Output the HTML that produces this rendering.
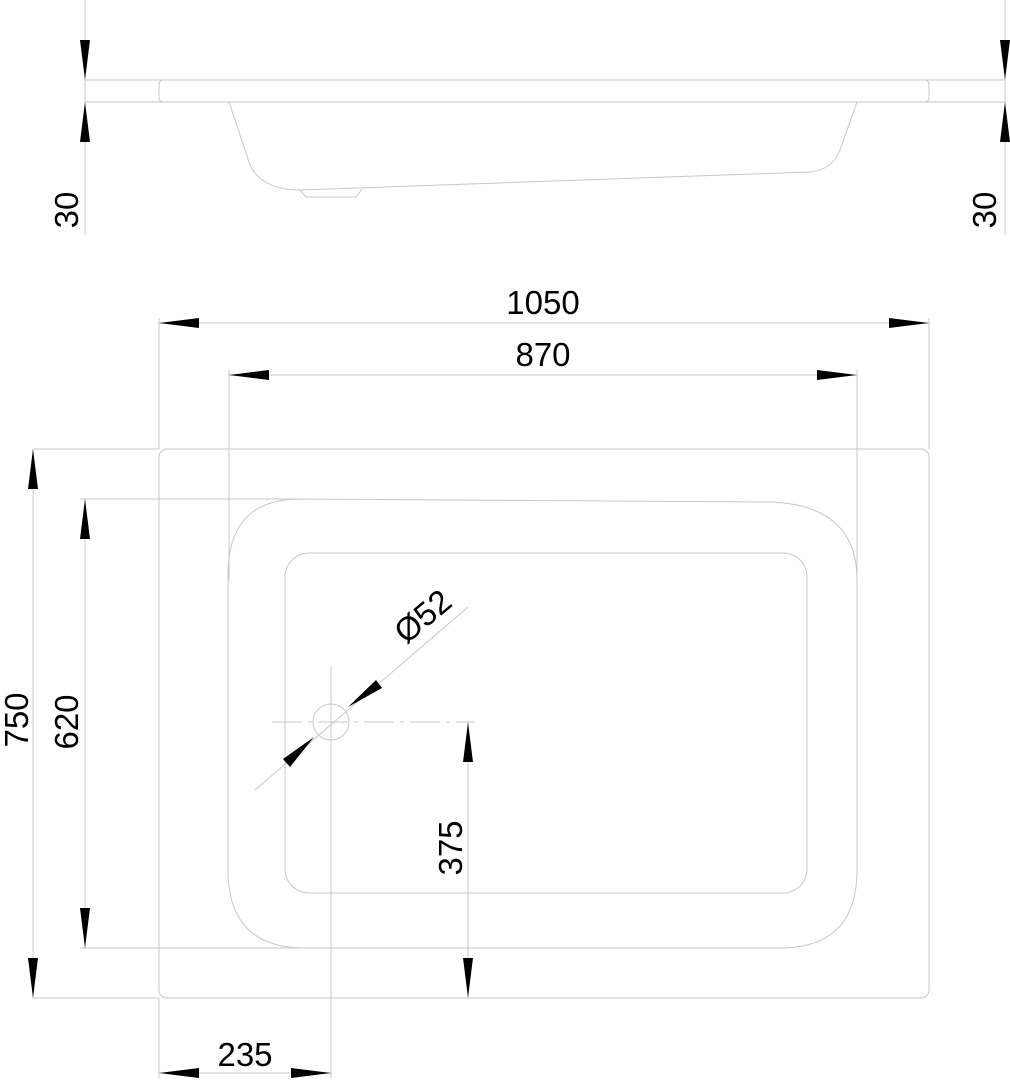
<!DOCTYPE html>
<html><head><meta charset="utf-8"><style>html,body{margin:0;padding:0;background:#fff}svg{display:block}</style></head>
<body>
<svg width="1010" height="1080" viewBox="0 0 1010 1080" xmlns="http://www.w3.org/2000/svg" font-family="Liberation Sans, sans-serif">
<g fill="none" stroke="#c8c8c8" stroke-width="1">
<line x1="85" y1="80" x2="1005" y2="80"/>
<line x1="85" y1="102" x2="1005" y2="102"/>
<rect x="159" y="80" width="770" height="22" rx="4"/>
<path d="M229 102 L250 165 Q262 190 300 190 L810 172 Q832 170 840 150 L857 102"/>
<path d="M300 190 L306 197 L356 197 L362 189"/>
<line x1="85" y1="0" x2="85" y2="235"/>
<line x1="1005" y1="0" x2="1005" y2="235"/>
<rect x="159" y="449" width="770" height="549" rx="8"/>
<path d="M300 499 L770 502 Q857 505 857 580 L857 870 Q857 948 780 948 L305 948 Q228 948 228 870 L228 575 Q228 499 300 499 Z"/>
<rect x="285" y="553" width="522" height="340" rx="24"/>
<line x1="159" y1="318" x2="159" y2="449"/>
<line x1="929" y1="318" x2="929" y2="449"/>
<line x1="229" y1="370" x2="229" y2="580"/>
<line x1="857" y1="370" x2="857" y2="580"/>
<line x1="159" y1="323" x2="929" y2="323"/>
<line x1="229" y1="375" x2="857" y2="375"/>
<line x1="33" y1="449" x2="159" y2="449"/>
<line x1="33" y1="998" x2="159" y2="998"/>
<line x1="33" y1="449" x2="33" y2="998"/>
<line x1="80" y1="499" x2="300" y2="499"/>
<line x1="80" y1="948" x2="300" y2="948"/>
<line x1="85" y1="499" x2="85" y2="948"/>
<line x1="468" y1="722" x2="468" y2="998"/>
<line x1="395" y1="998" x2="475" y2="998"/>
<line x1="159" y1="998" x2="159" y2="1078"/>
<line x1="331" y1="665" x2="331" y2="1078"/>
<line x1="159" y1="1073" x2="331" y2="1073"/>
<line x1="272" y1="722" x2="475" y2="722" stroke-dasharray="30 6 4 6"/>
<circle cx="331" cy="722" r="18"/>
<line x1="255" y1="790" x2="468" y2="607"/>
</g>
<g fill="#000">
<polygon points="85,80 80,40 90,40"/><polygon points="85,102 80,142 90,142"/>
<polygon points="1005,80 1000,40 1010,40"/><polygon points="1005,102 1000,142 1010,142"/>
<polygon points="159,323 199,318 199,328"/><polygon points="929,323 889,318 889,328"/>
<polygon points="229,375 269,370 269,380"/><polygon points="857,375 817,370 817,380"/>
<polygon points="33,449 28,489 38,489"/><polygon points="33,998 28,958 38,958"/>
<polygon points="85,499 80,539 90,539"/><polygon points="85,948 80,908 90,908"/>
<polygon points="468,722 463,762 473,762"/><polygon points="468,998 463,958 473,958"/>
<polygon points="159,1073 199,1068 199,1078"/><polygon points="331,1073 291,1068 291,1078"/>
<polygon points="348,707 376,680 382,688"/><polygon points="314,737 290,767 283,759"/>
</g>
<g font-size="33" fill="#000" text-anchor="middle">
<text x="543" y="314">1050</text>
<text x="543" y="366">870</text>
<text x="245" y="1066">235</text>
<text transform="translate(78,210) rotate(-90)">30</text>
<text transform="translate(996,210) rotate(-90)">30</text>
<text transform="translate(28,720) rotate(-90)">750</text>
<text transform="translate(78,722) rotate(-90)">620</text>
<text transform="translate(462,848) rotate(-90)">375</text>
<text transform="translate(430,625) rotate(-40)">Ø52</text>
</g>
</svg>
</body></html>
